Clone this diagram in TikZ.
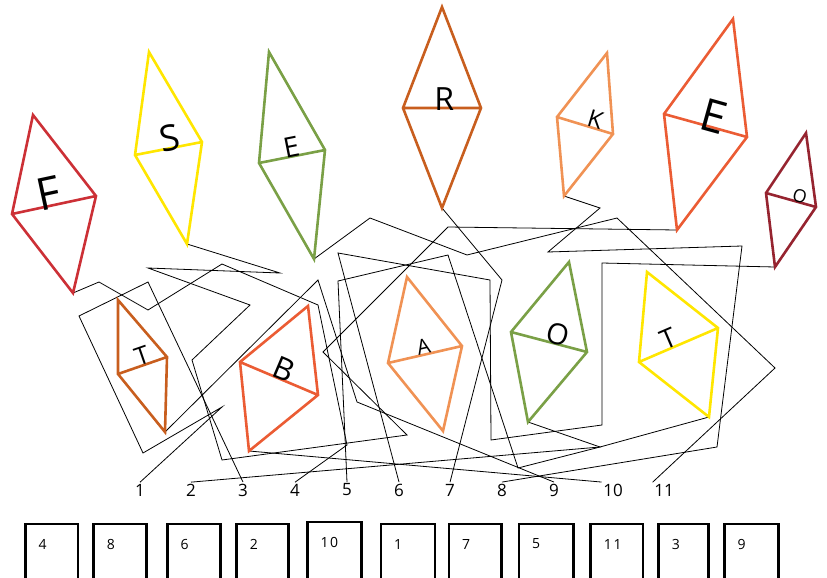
\documentclass[tikz,border=0pt]{standalone}
\usepackage{fontspec}
\setmainfont{Open Sans}
\newfontfamily\boxfont[LetterSpace=12]{Open Sans}
\usetikzlibrary{calc}
\definecolor{cRed}{RGB}{204,48,54}
\definecolor{cYel}{RGB}{255,230,0}
\definecolor{cGrn}{RGB}{122,160,70}
\definecolor{cBrn}{RGB}{200,94,30}
\definecolor{cLor}{RGB}{240,146,84}
\definecolor{cOrd}{RGB}{235,92,52}
\definecolor{cDrd}{RGB}{150,36,48}
\tikzset{
  kiteline/.style={line width=2.6pt, line join=miter},
  kitelabel/.style={anchor=base, inner sep=0pt, outer sep=0pt, text=black},
  wire/.style={line width=0.8pt, draw=black, line join=miter},
  numlbl/.style={font=\fontsize{17}{17}\selectfont, inner sep=1.5pt},
  boxnode/.style={draw=black, line width=2.6pt, anchor=north west, outer sep=0pt, inner sep=0pt, minimum height=90pt},
  boxlbl/.style={font=\boxfont\fontsize{14}{14}\selectfont, anchor=west, inner sep=0pt},
}
% #1 name, #2 colour, #3 letter, #4 size, #5 position along the cross line, #6 downward offset
\newcommand\kiteshape[6]{%
  \draw[kiteline, draw=#2] (#1t) -- (#1r) -- (#1b) -- (#1l) -- cycle (#1l) -- (#1r);
  \path let \p1=($(#1r)-(#1l)$), \n1={atan2(\y1,\x1)} in
    node[kitelabel, font=\fontsize{#4}{#4}\selectfont, rotate=\n1] (#1txt) at ($(#1l)!#5!(#1r)+(0,#6)$) {#3};
}
\begin{document}
\begin{tikzpicture}[x=1pt,y=-1pt]
\useasboundingbox (0,0) rectangle (827,578);
\clip (0,0) rectangle (827,578);

% kite corners
\coordinate (Ft) at (33,115);  \coordinate (Fl) at (12,214);  \coordinate (Fr) at (96,196);  \coordinate (Fb) at (73,293);
\coordinate (St) at (149,52);  \coordinate (Sl) at (135,155); \coordinate (Sr) at (202,142); \coordinate (Sb) at (187,244);
\coordinate (EGt) at (269,52); \coordinate (EGl) at (259,163);\coordinate (EGr) at (325,150);\coordinate (EGb) at (314,259);
\coordinate (Rt) at (442,7);   \coordinate (Rl) at (403,108); \coordinate (Rr) at (481,108); \coordinate (Rb) at (442,208);
\coordinate (Kt) at (607,53);  \coordinate (Kl) at (557,117); \coordinate (Kr) at (613,134); \coordinate (Kb) at (564,196);
\coordinate (EOt) at (733,19); \coordinate (EOl) at (664,114);\coordinate (EOr) at (747,137);\coordinate (EOb) at (677,230);
\coordinate (ODt) at (806,133);\coordinate (ODl) at (766,193);\coordinate (ODr) at (816,207);\coordinate (ODb) at (775,267);
\coordinate (TBt) at (118,300);\coordinate (TBl) at (118,374);\coordinate (TBr) at (167,357);\coordinate (TBb) at (165,432);
\coordinate (Bt) at (308,306); \coordinate (Bl) at (240,362); \coordinate (Br) at (318,395); \coordinate (Bb) at (249,451);
\coordinate (At) at (407,277); \coordinate (Al) at (388,363); \coordinate (Ar) at (462,346); \coordinate (Ab) at (443,431);
\coordinate (OGt) at (569,262);\coordinate (OGl) at (511,332);\coordinate (OGr) at (587,352);\coordinate (OGb) at (528,422);
\coordinate (TYt) at (647,272);\coordinate (TYl) at (639,362);\coordinate (TYr) at (718,328);\coordinate (TYb) at (709,417);

% number labels
\foreach \i/\x in {1/140,2/191,3/243,4/295,5/347,6/399,7/450,8/502,9/554,10/613,11/664}
  \node[numlbl] (n\i) at (\x,490) {\i};

% connectors
\draw[wire] (Fb) -- (99,282) -- (148,310) -- (222,264) -- (318,305) -- (347,445) -- (n4.north);
\draw[wire] (Sb) -- (280,273) -- (148,268) -- (250,305) -- (192,360) -- (222,460) -- (407,435) -- (323,352) -- (448,227) -- (EOb);
\draw[wire] (n3.north) -- (148,282) -- (79,316) -- (143,453) -- (222,407) -- (n1.north);
\draw[wire] (TBb) -- (318,280) -- (357,402) -- (n9.north);
\draw[wire] (ODb) -- (602,263) -- (602,425) -- (491,440) -- (490,280) -- (338,253) -- (n6.north);
\draw[wire] (OGb) -- (600,447) -- (518,468) -- (448,255) -- (338,281) -- (n5.north);
\draw[wire] (TYb) -- (600,447) -- (n2.north);
\draw[wire] (Bb) -- (n10.north west);
\draw[wire] (Rb) -- (502,280) -- (n7.north);
\draw[wire] (EGb) -- (370,218) -- (467,255) -- (617,218) -- (775,368) -- (n11.north west);
\draw[wire] (Kb) -- (600,208) -- (548,252) -- (742,246) -- (717,447) -- (n8.north);

% kites
\kiteshape{F}{cRed}{F}{45}{0.48}{4}
\kiteshape{S}{cYel}{S}{36}{0.55}{3}
\kiteshape{EG}{cGrn}{E}{28}{0.52}{1}
\kiteshape{R}{cBrn}{R}{32}{0.53}{2}
\kiteshape{K}{cLor}{K}{24}{0.64}{0}
\kiteshape{EO}{cOrd}{E}{45}{0.55}{5}
\kiteshape{OD}{cDrd}{O}{18}{0.64}{0}
\kiteshape{TB}{cBrn}{T}{25}{0.55}{0}
\kiteshape{B}{cOrd}{B}{31}{0.51}{1}
\kiteshape{A}{cLor}{A}{21}{0.5}{0}
\kiteshape{OG}{cGrn}{O}{29}{0.58}{1}
\kiteshape{TY}{cYel}{T}{27}{0.42}{0}

% answer boxes
\foreach \i/\l/\r/\t/\lab in {1/25.3/78/524/4, 2/93.7/146.7/524/8, 3/167.3/220.7/524/6,
    4/236.7/288.7/524/2, 5/307.3/361.3/522/10, 6/381/435/524/1, 7/449/501.7/524/7,
    8/519/573.3/524/5, 9/590.7/643/524/11, 10/658.7/708.3/524/3, 11/724.3/778.3/524/9}{
  \node[boxnode, minimum width={\r-\l}] (b\i) at (\l,\t) {};
  \node[boxlbl] (bl\i) at (\l+13,\t+20) {\lab};
}
\end{tikzpicture}
\end{document}
